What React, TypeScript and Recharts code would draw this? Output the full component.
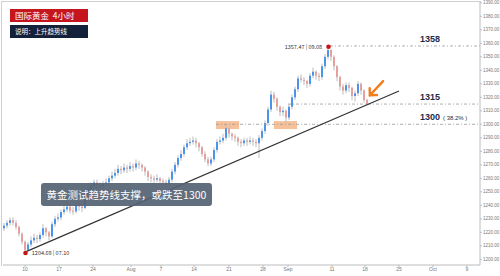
import React from 'react';
import { ComposedChart, Bar, XAxis, YAxis, ReferenceLine, ReferenceArea, ReferenceDot } from 'recharts';

// 4-hour gold candles, [open, high, low, close] left to right
const candles: number[][] = [
  [1223, 1227, 1221, 1225], [1225, 1229, 1223, 1227], [1227, 1231, 1225, 1229], [1229, 1231, 1225, 1227],
  [1227, 1229, 1222, 1224], [1224, 1225, 1217, 1219], [1219, 1220, 1211, 1213], [1213, 1214, 1204.69, 1207],
  [1207, 1213, 1208, 1211], [1211, 1217, 1209, 1214], [1214, 1219, 1212, 1216], [1216, 1218, 1212, 1215],
  [1215, 1220, 1213, 1218], [1218, 1226, 1216, 1223], [1223, 1224, 1217, 1220], [1220, 1221, 1214, 1217],
  [1217, 1228, 1216, 1226], [1226, 1232, 1224, 1230], [1230, 1234, 1228, 1231], [1231, 1237, 1229, 1235],
  [1235, 1240, 1233, 1237], [1237, 1242, 1235, 1239], [1239, 1241, 1234, 1236], [1236, 1239, 1233, 1235.5],
  [1235.5, 1242, 1234, 1240], [1240, 1243, 1236, 1239], [1239, 1241, 1235, 1238], [1238, 1250, 1237, 1248],
  [1248, 1254, 1246, 1252], [1252, 1257, 1250, 1254], [1254, 1259, 1252, 1257], [1257, 1259, 1252, 1255],
  [1255, 1257, 1251, 1254], [1254, 1258, 1252, 1256], [1256, 1260, 1254, 1257], [1257, 1262, 1255, 1260],
  [1260, 1265, 1258, 1262], [1262, 1267, 1260, 1264], [1264, 1270, 1262, 1267], [1267, 1269, 1263, 1266],
  [1266, 1271, 1264, 1268], [1268, 1270, 1264, 1267], [1267, 1272, 1265, 1269], [1269, 1271, 1265, 1268],
  [1268, 1274, 1266, 1271], [1271, 1273, 1267, 1270], [1270, 1271, 1265, 1268], [1268, 1269, 1262, 1265],
  [1265, 1266, 1258, 1261], [1261, 1263, 1257, 1260], [1260, 1262, 1256, 1259], [1259, 1263, 1257, 1260],
  [1260, 1261, 1255, 1258], [1258, 1260, 1254, 1257], [1257, 1259, 1253, 1256], [1256, 1261, 1254, 1259],
  [1259, 1267, 1257, 1265], [1265, 1272, 1263, 1270], [1270, 1277, 1268, 1275], [1275, 1281, 1273, 1278],
  [1278, 1285, 1276, 1283], [1283, 1289, 1281, 1286], [1286, 1290, 1284, 1287], [1287, 1291, 1285, 1288],
  [1288, 1290, 1283, 1286], [1286, 1287, 1280, 1283], [1283, 1284, 1276, 1278], [1278, 1280, 1272, 1274],
  [1274, 1276, 1269, 1271], [1271, 1276, 1269, 1274], [1274, 1283, 1272, 1281], [1281, 1289, 1279, 1287],
  [1287, 1291, 1285, 1288], [1288, 1293, 1286, 1290], [1290, 1299.5, 1288, 1297], [1297, 1298, 1290, 1293],
  [1293, 1294, 1288, 1291], [1291, 1293, 1287, 1290], [1290, 1291, 1284, 1287], [1287, 1289, 1283, 1286],
  [1286, 1290, 1284, 1288], [1288, 1290, 1284, 1287], [1287, 1291, 1285, 1288], [1288, 1290, 1284, 1287],
  [1287, 1289, 1283, 1286], [1286, 1292, 1275, 1290], [1290, 1297, 1288, 1295], [1295, 1303, 1293, 1301],
  [1301, 1313, 1299, 1311], [1311, 1325, 1309, 1322], [1322, 1324, 1316, 1319], [1319, 1320, 1310, 1313],
  [1313, 1314, 1306, 1309], [1309, 1313, 1306, 1310], [1310, 1311, 1301, 1305], [1305, 1315, 1303, 1313],
  [1313, 1322, 1311, 1320], [1320, 1328, 1318, 1326], [1326, 1336, 1324, 1334], [1334, 1337, 1331, 1333],
  [1333, 1335, 1329, 1332], [1332, 1333, 1327, 1330], [1330, 1338, 1328, 1336], [1336, 1342, 1334, 1339],
  [1339, 1340, 1333, 1336], [1336, 1338, 1332, 1335], [1335, 1345, 1333, 1343], [1343, 1352, 1341, 1350],
  [1350, 1357.47, 1348, 1355], [1355, 1356, 1347, 1350], [1350, 1351, 1340, 1343], [1343, 1344, 1332, 1335],
  [1335, 1336, 1325, 1328], [1328, 1330, 1322, 1325], [1325, 1331, 1323, 1329], [1329, 1331, 1324, 1327],
  [1327, 1328, 1318, 1321], [1321, 1325, 1317, 1323], [1323, 1332, 1321, 1330], [1330, 1331, 1322, 1325],
  [1325, 1326, 1316, 1318], [1318, 1319, 1314.5, 1315],
];

const xTicks = [7.33, 18.67, 30, 42.67, 52.67, 63.67, 75.33, 86.67, 95, 109.67, 120.67, 132, 143.33, 154.67];
const xTickLabels = ['10', '17', '24', 'Aug', '7', '14', '21', '28', 'Sep', '11', '18', '25', 'Oct', '9'];
const yTicks = [1200, 1210, 1220, 1230, 1240, 1250, 1260, 1270, 1280, 1290, 1300, 1310, 1320, 1330, 1340, 1350, 1360, 1370, 1380, 1390];

const levels = [
  { value: 1358, from: 109, label: '1358', note: '' },
  { value: 1315, from: 95, label: '1315', note: '' },
  { value: 1300, from: 71, label: '1300', note: '( 38.2% )' },
];
const highPoint = { x: 108.5, price: 1357.47, text: '1357.47 | 09.08' };
const lowPoint = { x: 7.5, price: 1204.69, text: '1204.69 | 07.10' };
const trendLine = [{ x: 7.5, y: 1205.5 }, { x: 132, y: 1324.7 }];
const arrowLine = [{ x: 126.7, y: 1332 }, { x: 122.3, y: 1321.5 }];
const retestZones = [{ x1: 71, x2: 78.7 }, { x1: 90.3, x2: 98 }];

const data = candles.map((c, i) => ({ t: i + 0.5, open: c[0], high: c[1], low: c[2], close: c[3] }));

const Candle = (props: any) => {
  const { x, y, width, height, payload } = props;
  const { open, high, low, close } = payload;
  const ratio = height / (high - low);
  const up = close >= open;
  const top = y + (high - Math.max(open, close)) * ratio;
  const bodyH = Math.max(1, Math.abs(open - close) * ratio);
  const cx = x + width / 2;
  return (
    <g>
      <line x1={cx} x2={cx} y1={y} y2={y + height} stroke="#bdbdbd" strokeWidth={1} />
      <rect x={x} y={top} width={width} height={bodyH} fill={up ? '#4a95ea' : '#e6a09d'} />
    </g>
  );
};

const Arrow = (props: any) => {
  const { x1, y1, x2, y2 } = props;
  const ang = Math.atan2(y1 - y2, x1 - x2);
  const len = 7;
  const a1 = ang + Math.PI / 4;
  const a2 = ang - Math.PI / 4;
  return (
    <g stroke="#f07c1c" strokeWidth={2.4} strokeLinecap="round" fill="none">
      <line x1={x1} y1={y1} x2={x2} y2={y2} />
      <polyline points={`${x2 + len * Math.cos(a1)},${y2 + len * Math.sin(a1)} ${x2},${y2} ${x2 + len * Math.cos(a2)},${y2 + len * Math.sin(a2)}`} />
    </g>
  );
};

const LevelLabel = (props: any) => {
  const { viewBox, label, note } = props;
  const y = viewBox.y;
  return (
    <g>
      <text x={420} y={y - 4} fontSize={9} fontWeight="bold" fill="#1d2b4a" fontFamily="Liberation Sans">{label}</text>
      {note && <text x={443} y={y - 4} fontSize={6} fill="#1d2b4a" fontFamily="Liberation Sans">{note}</text>}
    </g>
  );
};

export default function App() {
  return (
    <div style={{ position: 'absolute', left: 0, top: 0, width: 500, height: 276, background: '#fff', fontFamily: '"Noto Sans CJK SC", sans-serif' }}>
      <ComposedChart width={500} height={276} data={data} margin={{ top: 2, right: 0, bottom: 0, left: 3 }}>
        <XAxis
          dataKey="t"
          type="number"
          domain={[0, 159]}
          ticks={xTicks}
          interval={0}
          height={11}
          tickSize={2}
          tickMargin={0}
          stroke="#bcbcbc"
          tick={{ fontSize: 5, fill: '#777', fontFamily: 'Liberation Sans' }}
          tickFormatter={(v: number, i: number) => xTickLabels[i]}
        />
        <YAxis
          orientation="right"
          domain={[1195.8, 1390.6]}
          allowDataOverflow
          ticks={yTicks}
          interval={0}
          width={20}
          tickSize={2}
          tickMargin={1}
          stroke="#bcbcbc"
          tick={{ fontSize: 4.5, fill: '#777', fontFamily: 'Liberation Sans' }}
          tickFormatter={(v: number) => v.toFixed(2)}
        />
        {retestZones.map((z, i) => (
          <ReferenceArea key={i} x1={z.x1} x2={z.x2} y1={1296.5} y2={1302.4} fill="#f4b58a" fillOpacity={0.85} stroke="none" />
        ))}
        {levels.map((l) => (
          <ReferenceLine
            key={l.label}
            segment={[{ x: l.from, y: l.value }, { x: 159, y: l.value }]}
            stroke="#9a9a9a"
            strokeWidth={0.8}
            strokeDasharray="3 2 1 2"
            label={<LevelLabel label={l.label} note={l.note} />}
          />
        ))}
        <Bar dataKey={(d: any) => [d.low, d.high]} barSize={2} shape={<Candle />} isAnimationActive={false} />
        <ReferenceLine segment={trendLine} stroke="#333" strokeWidth={1.2} />
        <ReferenceLine segment={arrowLine} shape={(p: any) => <Arrow {...p} />} />
        <ReferenceDot
          x={highPoint.x}
          y={highPoint.price}
          r={2.3}
          fill="#c8121a"
          stroke="none"
          label={{ value: highPoint.text, position: 'left', fontSize: 5.5, fill: '#333', offset: 4 }}
        />
        <ReferenceDot
          x={lowPoint.x}
          y={lowPoint.price}
          r={2.3}
          fill="#c8121a"
          stroke="none"
          label={{ value: lowPoint.text, position: 'right', fontSize: 5.5, fill: '#333', offset: 4 }}
        />
      </ComposedChart>

      {/* frame */}
      <div style={{ position: 'absolute', left: 1, top: 1, width: 479, height: 264, borderLeft: '1px solid #d0d0d0', borderTop: '1px solid #d0d0d0', pointerEvents: 'none' }} />

      {/* title tags */}
      <div style={{ position: 'absolute', left: 10, top: 9, width: 78, height: 13, background: '#c4161c', color: '#fff', fontSize: 8.5, lineHeight: '13px', paddingLeft: 5, boxSizing: 'border-box', whiteSpace: 'nowrap' }}>
        国际黄金&nbsp;&nbsp;4小时
      </div>
      <div style={{ position: 'absolute', left: 10, top: 25, width: 78, height: 13, background: '#13213a', color: '#fff', fontSize: 6.5, lineHeight: '13px', paddingLeft: 5, boxSizing: 'border-box', whiteSpace: 'nowrap' }}>
        说明：上升趋势线
      </div>

      {/* comment box */}
      <div style={{ position: 'absolute', left: 41, top: 183, width: 171, height: 23, background: 'rgba(84,98,114,0.92)', borderRadius: 3, color: '#fff', fontSize: 10.5, lineHeight: '23px', textAlign: 'center', whiteSpace: 'nowrap' }}>
        黄金测试趋势线支撑，或跌至1300
      </div>
    </div>
  );
}
